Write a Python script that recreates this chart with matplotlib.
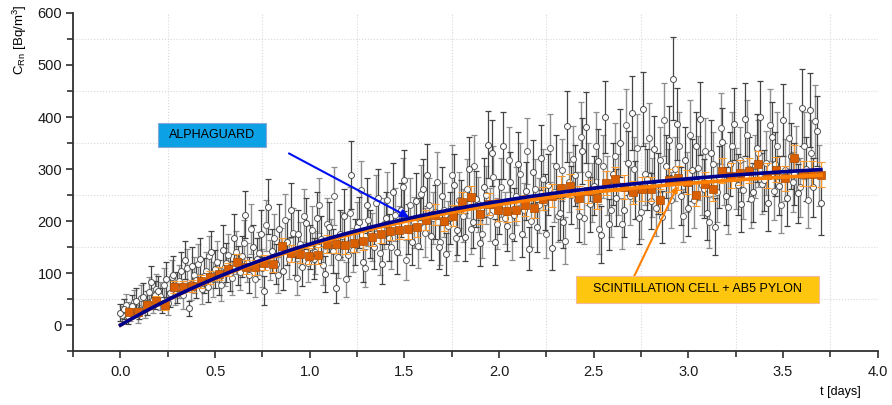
import matplotlib
matplotlib.use('Agg')
import matplotlib.pyplot as plt
import matplotlib.patches as patches
import numpy as np
from matplotlib.ticker import MultipleLocator

# AlphaGuard readings, one every 0.02 days starting at t = 0 (series A)
# and the readings in between, starting at t = 0.01 (series B)
AG_STEP = 0.02
AG_VALUES_A = [24, 31, 17, 36, 47, 30, 55, 42, 82, 58,
               66, 48, 88, 61, 97, 72, 104, 125, 32, 113,
               86, 128, 95, 74, 140, 108, 92, 145, 120, 101,
               168, 115, 132, 212, 96, 150, 128, 176, 66, 228,
               142, 118, 185, 104, 160, 222, 138, 175, 112, 196,
               150, 128, 205, 165, 98, 188, 142, 71, 176, 210,
               135, 289, 160, 198, 122, 230, 175, 150, 245, 118,
               205, 168, 255, 140, 222, 278, 185, 160, 238, 196,
               262, 289, 172, 218, 150, 248, 137, 205, 270, 182,
               225, 169, 300, 198, 242, 158, 265, 347, 331, 160,
               228, 345, 190, 275, 212, 310, 176, 258, 147, 295,
               189, 322, 236, 270, 148, 305, 215, 198, 382, 250,
               288, 210, 335, 380, 232, 268, 315, 174, 400, 194,
               290, 245, 350, 222, 312, 408, 260, 205, 416, 280,
               238, 338, 272, 207, 305, 355, 474, 387, 248, 318,
               225, 298, 345, 397, 262, 215, 330, 189, 285, 352,
               248, 310, 387, 270, 233, 396, 300, 255, 340, 400,
               278, 235, 362, 310, 268, 394, 245, 325, 290, 253,
               418, 300, 413, 265, 373, 234]
AG_ERRORS_A = [17, 20, 15, 21, 24, 19, 26, 23, 32, 27,
               28, 24, 33, 27, 35, 30, 36, 36, 14, 37,
               33, 40, 34, 30, 41, 36, 34, 48, 38, 35,
               45, 38, 40, 45, 34, 43, 40, 46, 28, 53,
               42, 38, 48, 36, 44, 52, 41, 46, 37, 49,
               43, 40, 50, 45, 35, 48, 42, 29, 46, 51,
               41, 65, 44, 49, 39, 53, 46, 43, 55, 38,
               50, 45, 56, 41, 52, 58, 48, 44, 54, 49,
               57, 60, 46, 52, 43, 55, 41, 50, 58, 47,
               53, 46, 61, 49, 54, 44, 57, 65, 64, 44,
               53, 65, 48, 58, 51, 62, 46, 56, 42, 60,
               48, 63, 54, 58, 43, 61, 51, 49, 68, 55,
               59, 51, 64, 68, 53, 57, 62, 55, 70, 49,
               60, 55, 65, 52, 62, 71, 56, 50, 71, 59,
               54, 64, 58, 50, 61, 66, 79, 69, 55, 62,
               53, 60, 65, 70, 57, 51, 64, 55, 59, 66,
               55, 62, 69, 58, 54, 70, 61, 56, 65, 70,
               58, 54, 67, 62, 57, 69, 55, 63, 60, 56,
               74, 61, 71, 57, 68, 60]
AG_VALUES_B = [20, 38, 26, 44, 22, 52, 35, 64, 48, 70,
               56, 78, 42, 92, 68, 84, 58, 110, 80, 96,
               118, 70, 104, 132, 88, 122, 78, 112, 135, 90,
               140, 102, 158, 120, 185, 88, 138, 110, 192, 125,
               168, 96, 145, 202, 128, 178, 90, 155, 210, 120,
               182, 140, 230, 115, 195, 160, 248, 130, 172, 88,
               215, 145, 188, 260, 110, 202, 170, 235, 138, 195,
               240, 150, 212, 182, 265, 125, 230, 198, 152, 252,
               178, 230, 205, 275, 160, 222, 190, 288, 168, 240,
               210, 262, 185, 305, 232, 175, 250, 212, 285, 195,
               265, 205, 318, 172, 248, 290, 222, 335, 200, 262,
               230, 280, 175, 340, 255, 210, 298, 162, 275, 320,
               240, 362, 205, 290, 255, 345, 185, 305, 268, 222,
               325, 270, 195, 385, 248, 300, 340, 218, 290, 360,
               265, 225, 318, 395, 280, 240, 300, 345, 210, 275,
               365, 240, 302, 270, 335, 198, 310, 255, 378, 290,
               228, 345, 282, 318, 260, 365, 242, 305, 330, 272,
               312, 385, 258, 345, 230, 298, 360, 275, 320, 265,
               345, 240, 330, 392, 288]
AG_ERRORS_B = [16, 22, 18, 23, 17, 25, 21, 28, 24, 29,
               26, 31, 23, 34, 29, 32, 27, 37, 31, 34,
               38, 29, 36, 40, 33, 39, 31, 37, 41, 33,
               41, 35, 44, 38, 48, 33, 41, 37, 49, 39,
               45, 34, 42, 50, 40, 47, 33, 44, 51, 38,
               47, 41, 53, 38, 49, 44, 55, 40, 46, 33,
               51, 42, 48, 56, 37, 50, 46, 54, 41, 49,
               54, 43, 51, 47, 57, 39, 53, 49, 43, 56,
               47, 53, 50, 58, 44, 52, 48, 59, 45, 54,
               51, 57, 48, 61, 53, 46, 55, 51, 59, 49,
               57, 50, 62, 46, 55, 60, 52, 64, 50, 57,
               53, 59, 46, 65, 56, 51, 60, 45, 58, 63,
               54, 67, 50, 60, 56, 65, 48, 61, 57, 52,
               63, 58, 49, 69, 55, 61, 65, 52, 60, 66,
               57, 53, 62, 70, 59, 54, 61, 65, 51, 58,
               67, 54, 61, 58, 64, 49, 62, 56, 68, 60,
               53, 65, 59, 62, 56, 67, 55, 61, 64, 58,
               62, 69, 56, 65, 53, 60, 67, 58, 63, 57,
               65, 54, 64, 70, 59]

# scintillation cell + AB5 readings
SC_T0 = 0.045
SC_STEP = 0.0475
SC_VALUES = [26, 25, 39, 47, 39, 73, 74, 75, 84, 92,
             99, 107, 122, 112, 111, 120, 118, 152, 138, 136,
             133, 134, 156, 155, 154, 158, 162, 170, 175, 181,
             183, 184, 189, 202, 212, 201, 210, 236, 246, 214,
             233, 221, 220, 221, 230, 226, 243, 249, 264, 268,
             245, 257, 245, 273, 280, 265, 255, 261, 262, 240,
             278, 282, 275, 251, 272, 262, 297, 287, 293, 297,
             310, 288, 299, 282, 321, 291, 291, 289]
SC_ERRORS = [6, 7, 8, 9, 9, 11, 11, 11, 12, 12,
             13, 13, 14, 14, 14, 15, 15, 16, 16, 16,
             16, 16, 17, 17, 17, 17, 18, 18, 18, 18,
             18, 19, 19, 19, 20, 20, 20, 20, 21, 20,
             21, 21, 21, 21, 21, 21, 22, 22, 22, 22,
             22, 22, 22, 23, 23, 23, 22, 23, 23, 22,
             23, 23, 23, 22, 23, 23, 24, 24, 24, 24,
             25, 24, 24, 24, 25, 24, 24, 24]

# fitted build-up curves C(t) = Cmax * (1 - exp(-t / tau))
FIT_AG = (330.0, 1.565)
FIT_SC = (315.0, 1.50)
FIT_TMAX = 3.7


def buildup(t, cmax, tau):
    return cmax * (1 - np.exp(-t / tau))


def main():
    plt.rcParams['font.family'] = ['Liberation Sans', 'DejaVu Sans']
    plt.rcParams['mathtext.fontset'] = 'custom'
    plt.rcParams['mathtext.rm'] = 'Liberation Sans'
    plt.rcParams['mathtext.it'] = 'Liberation Sans:italic'

    fig = plt.figure(figsize=(8.92, 4.05), dpi=100)
    ax = fig.add_axes([0.082, 0.133, 0.902, 0.835])

    t_a = np.arange(len(AG_VALUES_A)) * AG_STEP
    t_b = 0.01 + np.arange(len(AG_VALUES_B)) * AG_STEP
    sc_t = SC_T0 + np.arange(len(SC_VALUES)) * SC_STEP

    ax.errorbar(t_b, AG_VALUES_B, yerr=AG_ERRORS_B, fmt='none', ecolor='#8e8e8e',
                elinewidth=1.0, capsize=2.5, capthick=0.9, zorder=2)
    ax.errorbar(t_a, AG_VALUES_A, yerr=AG_ERRORS_A, fmt='none', ecolor='#444444',
                elinewidth=0.9, capsize=2.5, capthick=0.9, zorder=2)
    ax.plot(t_b, AG_VALUES_B, 'o', ms=4.3, mfc='white', mec='#606060', mew=0.7, zorder=3)
    ax.plot(t_a, AG_VALUES_A, 'o', ms=4.3, mfc='white', mec='#505050', mew=0.7, zorder=3)

    ax.errorbar(sc_t, SC_VALUES, yerr=SC_ERRORS, fmt='none', ecolor='#FF9A30',
                elinewidth=0.9, capsize=3, capthick=0.8, zorder=4)
    ax.plot(sc_t, SC_VALUES, 's', ms=5.6, mfc='#D95F00', mec='#B04C00', mew=0.5, zorder=5)

    tt = np.linspace(0, FIT_TMAX, 300)
    ax.plot(tt, buildup(tt, *FIT_SC), color='#FF8000', lw=2.6, zorder=6)
    ax.plot(tt, buildup(tt, *FIT_AG), color='#00008C', lw=2.6, zorder=7)

    ax.set_xlim(-0.25, 4.0)
    ax.set_ylim(-50, 600)
    ax.xaxis.set_major_locator(MultipleLocator(0.5))
    ax.xaxis.set_minor_locator(MultipleLocator(0.25))
    ax.yaxis.set_major_locator(MultipleLocator(100))
    ax.yaxis.set_minor_locator(MultipleLocator(50))
    ax.xaxis.set_major_formatter(plt.FuncFormatter(lambda v, p: '%.1f' % v))
    ax.grid(which='minor', color='#d8d8d8', ls=':', lw=0.8)
    ax.set_axisbelow(True)

    for side in ['top', 'right']:
        ax.spines[side].set_visible(False)
    for side in ['left', 'bottom']:
        ax.spines[side].set_linewidth(1.3)
        ax.spines[side].set_color('#303030')
    ax.tick_params(which='major', length=5, width=1.2, color='#303030',
                   labelsize=10.5, labelcolor='#1a1a1a', pad=3)
    ax.tick_params(axis='x', which='major', pad=5)
    ax.tick_params(which='minor', length=4, width=1.2, color='#303030')

    fig.text(0.022, 0.99, r'C$_{\mathrm{Rn}}$ [Bq/m$^{3}$]', rotation=90,
             ha='center', va='top', fontsize=9.5)
    fig.text(0.942, 0.032, 't [days]', ha='center', va='center', fontsize=9)

    # label boxes
    fig.patches.append(patches.Rectangle((158 / 892, 1 - 147 / 405), 108 / 892, 24 / 405,
                                         transform=fig.transFigure, facecolor='#0CA0E4',
                                         edgecolor='#8AA8D8', lw=0.8, zorder=10))
    fig.text(212 / 892, 1 - 135 / 405, 'ALPHAGUARD', ha='center', va='center',
             fontsize=9, zorder=11)
    fig.patches.append(patches.Rectangle((576 / 892, 1 - 303 / 405), 243 / 892, 27 / 405,
                                         transform=fig.transFigure, facecolor='#FFC60F',
                                         edgecolor='#F2B8A0', lw=0.8, zorder=10))
    fig.text(697 / 892, 1 - 289.5 / 405, 'SCINTILLATION CELL + AB5 PYLON', ha='center',
             va='center', fontsize=9, zorder=11)

    ax.annotate('', xy=(1.525, 207), xytext=(0.89, 330),
                arrowprops=dict(arrowstyle='-|>', color='#0010F0', lw=1.5,
                                mutation_scale=12, shrinkA=0, shrinkB=0), zorder=8)
    ax.annotate('', xy=(2.943, 268), xytext=(2.711, 92),
                arrowprops=dict(arrowstyle='-|>', color='#FF8000', lw=1.5,
                                mutation_scale=9, shrinkA=0, shrinkB=0), zorder=8)

    fig.savefig('out.png', dpi=100)


if __name__ == '__main__':
    main()
